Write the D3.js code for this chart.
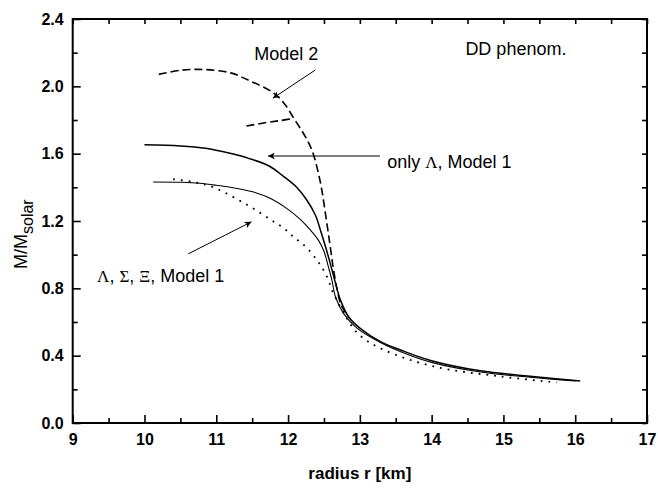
<!DOCTYPE html>
<html>
<head>
<meta charset="utf-8">
<script src="https://cdn.jsdelivr.net/npm/d3@7"></script>
<style>
  body { margin: 0; background: #fff; }
  text { font-family: "Liberation Sans", Arial, sans-serif; fill: #000; }
</style>
</head>
<body>
<svg id="chart"></svg>
<script>
// M-R curves (r in km, M in solar masses)
const model2R = [10.2, 10.5, 10.82, 11.2, 11.43, 11.8, 11.96, 12.08, 12.2, 12.28, 12.35, 12.45, 12.52, 12.58, 12.63, 12.68, 12.74, 12.84];
const model2M = [2.071, 2.095, 2.10, 2.08, 2.04, 1.96, 1.89, 1.81, 1.73, 1.67, 1.60, 1.43, 1.246, 1.07, 0.92, 0.80, 0.70, 0.633];

const model2bR = [11.42, 11.7, 11.9, 12.08];
const model2bM = [1.764, 1.785, 1.797, 1.81];

const onlyLambdaR = [10.0, 10.5, 10.85, 11.19, 11.45, 11.73, 11.94, 12.12, 12.26, 12.38, 12.45, 12.52, 12.58, 12.63, 12.68, 12.73, 12.84, 13.0, 13.3, 13.56, 14.0, 14.68, 15.37, 16.07];
const onlyLambdaM = [1.653, 1.646, 1.632, 1.602, 1.572, 1.528, 1.464, 1.400, 1.325, 1.236, 1.147, 1.05, 0.96, 0.88, 0.80, 0.73, 0.633, 0.564, 0.48, 0.435, 0.37, 0.31, 0.278, 0.25];

const allHypR = [10.12, 10.5, 10.77, 11.0, 11.33, 11.55, 11.75, 11.98, 12.17, 12.31, 12.42, 12.50, 12.56, 12.61, 12.66, 12.77, 12.96, 13.3, 13.56, 14.0, 14.68, 15.37, 16.0];
const allHypM = [1.432, 1.43, 1.424, 1.412, 1.39, 1.368, 1.335, 1.275, 1.21, 1.147, 1.088, 1.02, 0.93, 0.85, 0.75, 0.653, 0.564, 0.475, 0.425, 0.36, 0.303, 0.272, 0.25];

const dottedR = [10.4, 10.7, 10.96, 11.43, 11.75, 11.94, 12.07, 12.19, 12.31, 12.40, 12.47, 12.53, 12.58, 12.62, 12.68, 12.74, 12.80, 12.86, 13.0, 13.33, 14.03, 14.95, 15.74];
const dottedM = [1.448, 1.43, 1.40, 1.296, 1.21, 1.157, 1.107, 1.068, 1.018, 0.969, 0.926, 0.88, 0.83, 0.78, 0.73, 0.68, 0.637, 0.593, 0.52, 0.435, 0.336, 0.277, 0.241];

// ticks
const xMajor = [9, 10, 11, 12, 13, 14, 15, 16, 17];
const xMinor = [9.5, 10.5, 11.5, 12.5, 13.5, 14.5, 15.5, 16.5];
const yMajor = [0.0, 0.4, 0.8, 1.2, 1.6, 2.0, 2.4];
const yMinor = [0.2, 0.6, 1.0, 1.4, 1.8, 2.2];

// annotations: text at [r, M], arrows from [r, M] to [r, M]
const labelTexts = ["Model 2", "DD phenom.", "only Λ, Model 1", "Λ, Σ, Ξ, Model 1"];
const labelPos = [[11.53, 2.156], [14.47, 2.186], [13.38, 1.513], [9.34, 0.84]];
const arrowFrom = [[12.38, 2.097], [13.28, 1.586], [10.61, 1.005]];
const arrowTo = [[11.79, 1.93], [11.72, 1.586], [11.49, 1.195]];

const width = 658, height = 489;
const margin = {top: 19, right: 11, bottom: 66, left: 72.7};

const svg = d3.select("#chart")
  .attr("width", width)
  .attr("height", height);

const x = d3.scaleLinear().domain([9, 17]).range([margin.left, width - margin.right]);
const y = d3.scaleLinear().domain([0, 2.4]).range([height - margin.bottom, margin.top]);

// axes, ticks pointing inward
const fmtY = d3.format(".1f");

svg.append("g").attr("transform", `translate(0,${y(0)})`)
  .call(d3.axisBottom(x).tickValues(xMajor).tickSize(-8).tickPadding(11).tickFormat(d3.format("d")));
svg.append("g").attr("transform", `translate(0,${y(0)})`)
  .call(d3.axisBottom(x).tickValues(xMinor).tickSize(-5).tickFormat(""));
svg.append("g").attr("transform", `translate(${x(9)},0)`)
  .call(d3.axisLeft(y).tickValues(yMajor).tickSize(-8).tickPadding(9).tickFormat(fmtY));
svg.append("g").attr("transform", `translate(${x(9)},0)`)
  .call(d3.axisLeft(y).tickValues(yMinor).tickSize(-5).tickFormat(""));
svg.append("g").attr("transform", `translate(0,${y(2.4)})`)
  .call(d3.axisTop(x).tickValues(xMajor.concat(xMinor)).tickSize(-5).tickFormat(""));
svg.append("g").attr("transform", `translate(${x(17)},0)`)
  .call(d3.axisRight(y).tickValues(yMajor.concat(yMinor)).tickSize(-5).tickFormat(""));

svg.selectAll(".domain").remove();
svg.selectAll(".tick line").attr("stroke", "#000").attr("stroke-width", 1.6);
svg.selectAll(".tick text")
  .style("font-family", "'Liberation Sans', Arial, sans-serif")
  .style("font-size", "16px")
  .style("font-weight", "bold")
  .attr("fill", "#000");

// frame
svg.append("rect")
  .attr("x", x(9)).attr("y", y(2.4))
  .attr("width", x(17) - x(9)).attr("height", y(0) - y(2.4))
  .attr("fill", "none").attr("stroke", "#000").attr("stroke-width", 2);

// axis titles
svg.append("text")
  .attr("x", (x(9) + x(17)) / 2).attr("y", 479)
  .attr("text-anchor", "middle")
  .style("font-size", "17px").style("font-weight", "bold")
  .text("radius r [km]");

const yTitle = svg.append("text")
  .attr("transform", `translate(27,269) rotate(-90)`)
  .style("font-size", "18px");
yTitle.append("tspan").text("M/M");
yTitle.append("tspan").attr("dy", 6).style("font-size", "16px").text("solar");

// curves
const line = d3.line()
  .x(d => x(d[0]))
  .y(d => y(d[1]))
  .curve(d3.curveCatmullRom.alpha(0.5));

function draw(rs, ms, width, dash) {
  svg.append("path")
    .datum(d3.zip(rs, ms))
    .attr("d", line)
    .attr("fill", "none")
    .attr("stroke", "#000")
    .attr("stroke-width", width)
    .attr("stroke-dasharray", dash);
}

draw(dottedR, dottedM, 1.8, "1.8,6");
draw(allHypR, allHypM, 1.1, null);
draw(onlyLambdaR, onlyLambdaM, 1.5, null);
draw(model2R, model2M, 1.6, "8,4");
draw(model2bR, model2bM, 1.6, "8,4");

// arrows
svg.append("defs").append("marker")
  .attr("id", "head")
  .attr("viewBox", "0 0 10 10")
  .attr("refX", 10).attr("refY", 5)
  .attr("markerWidth", 10).attr("markerHeight", 7)
  .attr("markerUnits", "userSpaceOnUse")
  .attr("orient", "auto")
  .append("path").attr("d", "M0,0L10,5L0,10L3,5Z").attr("fill", "#000");

arrowFrom.forEach((a, i) => {
  svg.append("line")
    .attr("x1", x(a[0])).attr("y1", y(a[1]))
    .attr("x2", x(arrowTo[i][0])).attr("y2", y(arrowTo[i][1]))
    .attr("stroke", "#000").attr("stroke-width", 1)
    .attr("marker-end", "url(#head)");
});

// labels, greek letters in serif
labelTexts.forEach((t, i) => {
  const txt = svg.append("text")
    .attr("x", x(labelPos[i][0])).attr("y", y(labelPos[i][1]))
    .style("font-size", "18px");
  t.split(/([ΛΣΞ])/).forEach(part => {
    if (!part) return;
    const ts = txt.append("tspan").text(part);
    if (/[ΛΣΞ]/.test(part)) ts.style("font-family", "'Liberation Serif', 'Times New Roman', serif").style("font-size", "17px");
  });
});
</script>
</body>
</html>
